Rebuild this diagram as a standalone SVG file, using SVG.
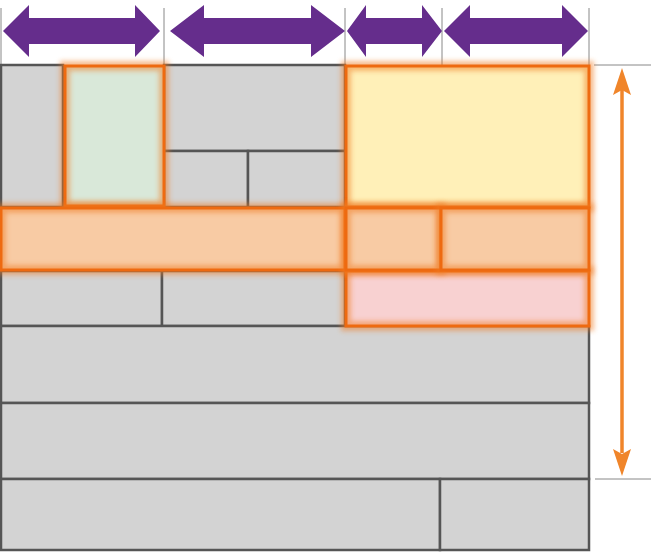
<svg xmlns="http://www.w3.org/2000/svg" width="653" height="556" viewBox="0 0 653 556">
<defs>
<style>
.cell{fill:#d3d3d3;stroke:#555;stroke-width:2.5}
.hl{fill:none;stroke:#ee6a10;stroke-width:3}
.glow{fill:none;stroke:#f07a20;stroke-width:10;opacity:0.5;filter:url(#blur)}
.tick{stroke:#888;stroke-width:1}
.parrow{fill:#652d8c}
</style>
<filter id="blur" x="-20%" y="-20%" width="140%" height="140%"><feGaussianBlur stdDeviation="2.5"/></filter>
</defs>
<rect width="653" height="556" fill="#fff"/>
<g id="ticks">
<line class="tick" x1="1" y1="8" x2="1" y2="65"/>
<line class="tick" x1="164" y1="8" x2="164" y2="65"/>
<line class="tick" x1="345" y1="8" x2="345" y2="65"/>
<line class="tick" x1="442" y1="8" x2="442" y2="65"/>
<line class="tick" x1="589" y1="8" x2="589" y2="65"/>
<line class="tick" x1="594" y1="65" x2="651" y2="65"/>
<line class="tick" x1="595" y1="479" x2="651" y2="479"/>
</g>
<g id="cells">
<g id="a1"><rect class="cell" x="1" y="65" width="62" height="142"/></g>
<g id="a3"><rect class="cell" x="164" y="65" width="181" height="86"/></g>
<g id="a4"><rect class="cell" x="164" y="151" width="84" height="56"/></g>
<g id="a5"><rect class="cell" x="248" y="151" width="97" height="56"/></g>
<g id="c1"><rect class="cell" x="1" y="271" width="161" height="55"/></g>
<g id="c2"><rect class="cell" x="162" y="271" width="183" height="55"/></g>
<g id="d1"><rect class="cell" x="1" y="326" width="588" height="77"/></g>
<g id="e1"><rect class="cell" x="1" y="403" width="588" height="76"/></g>
<g id="f1"><rect class="cell" x="1" y="479" width="439" height="71"/></g>
<g id="f2"><rect class="cell" x="440" y="479" width="149" height="71"/></g>
</g>
<g id="highlights">
<g id="a2"><rect fill="#d9e8d9" x="65" y="66" width="99" height="140"/><rect class="glow" x="65" y="66" width="99" height="140"/><rect class="hl" x="65" y="66" width="99" height="140"/></g>
<g id="a6"><rect fill="#fff0b8" x="346" y="66" width="243" height="141"/><rect class="glow" x="346" y="66" width="243" height="141"/><rect class="hl" x="346" y="66" width="243" height="141"/></g>
<g id="c3"><rect fill="#f8d1d1" x="346" y="271" width="243" height="55"/><rect class="glow" x="346" y="271" width="243" height="55"/><rect class="hl" x="346" y="271" width="243" height="55"/></g>
<g id="b1"><rect fill="#f8cba4" x="1" y="208" width="344" height="62"/><rect class="glow" x="1" y="208" width="344" height="62"/><rect class="hl" x="1" y="208" width="344" height="62"/></g>
<g id="b2"><rect fill="#f8cba4" x="346" y="208" width="95" height="62"/><rect class="glow" x="346" y="208" width="95" height="62"/><rect class="hl" x="346" y="208" width="95" height="62"/></g>
<g id="b3"><rect fill="#f8cba4" x="441" y="208" width="148" height="62"/><rect class="glow" x="441" y="208" width="148" height="62"/><rect class="hl" x="441" y="208" width="148" height="62"/></g>
</g>
<g id="connectors">
<polygon class="parrow" points="3,31 29,5 29,18 135,18 135,5 160,31 135,57 135,44 29,44 29,57"/>
<polygon class="parrow" points="170,31 204,5 204,18 311,18 311,5 345,31 311,57 311,44 204,44 204,57"/>
<polygon class="parrow" points="347,31 366,5 366,18 422,18 422,5 442,31 422,57 422,44 366,44 366,57"/>
<polygon class="parrow" points="444,31 470,5 470,18 562,18 562,5 588,31 562,57 562,44 470,44 470,57"/>
<line x1="622" y1="90" x2="622" y2="453" stroke="#f0852a" stroke-width="3.5"/>
<polygon points="622,68 631,95 622,90 613,95" fill="#f0852a"/>
<polygon points="622,476 631,449 622,454 613,449" fill="#f0852a"/>
</g>
</svg>
